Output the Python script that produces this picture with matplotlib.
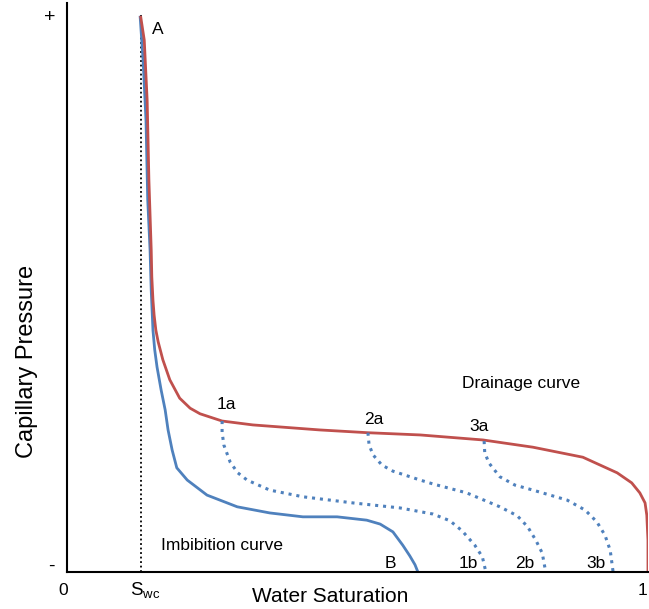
import matplotlib
matplotlib.use('Agg')
from matplotlib import pyplot as plt

plt.rcParams['font.family'] = ['Liberation Sans', 'DejaVu Sans']
plt.rcParams['mathtext.fontset'] = 'custom'
plt.rcParams['mathtext.rm'] = 'Liberation Sans'

# Water saturation (fraction) and capillary pressure (relative, 0..1)
drain_x = [0.127, 0.133, 0.138, 0.141, 0.145, 0.146, 0.148, 0.150, 0.153, 0.157,
           0.165, 0.177, 0.194, 0.212, 0.229, 0.267, 0.320, 0.435, 0.518, 0.608,
           0.716, 0.802, 0.888, 0.947, 0.972, 0.986, 0.995, 0.998, 1.0, 1.0]
drain_y = [0.996, 0.955, 0.847, 0.704, 0.578, 0.530, 0.488, 0.461, 0.434, 0.413,
           0.381, 0.345, 0.312, 0.294, 0.284, 0.271, 0.264, 0.255, 0.250, 0.246,
           0.237, 0.224, 0.206, 0.178, 0.160, 0.142, 0.124, 0.102, 0.057, 0.0]

imb_x = [0.126, 0.131, 0.136, 0.139, 0.143, 0.145, 0.148, 0.151, 0.155, 0.162,
         0.169, 0.174, 0.181, 0.189, 0.207, 0.241, 0.293, 0.349, 0.406, 0.465,
         0.516, 0.539, 0.561, 0.578, 0.590, 0.599, 0.604]
imb_y = [0.996, 0.919, 0.811, 0.668, 0.578, 0.506, 0.434, 0.399, 0.368, 0.327,
         0.291, 0.255, 0.219, 0.187, 0.165, 0.138, 0.117, 0.106, 0.099, 0.099,
         0.093, 0.086, 0.072, 0.048, 0.029, 0.013, 0.0]

# scanning curves 1a-1b, 2a-2b, 3a-3b
scan1_x = [0.267, 0.267, 0.270, 0.281, 0.294, 0.310, 0.349, 0.406, 0.492, 0.573,
           0.630, 0.659, 0.680, 0.702, 0.715, 0.721]
scan1_y = [0.271, 0.251, 0.228, 0.197, 0.178, 0.165, 0.147, 0.135, 0.124, 0.115,
           0.104, 0.092, 0.074, 0.048, 0.027, 0.0]
scan2_x = [0.518, 0.520, 0.527, 0.542, 0.561, 0.608, 0.630, 0.688, 0.745, 0.775,
           0.793, 0.807, 0.818, 0.824]
scan2_y = [0.250, 0.228, 0.210, 0.192, 0.181, 0.165, 0.158, 0.142, 0.117, 0.101,
           0.081, 0.057, 0.034, 0.0]
scan3_x = [0.718, 0.719, 0.726, 0.745, 0.771, 0.802, 0.861, 0.892, 0.912, 0.926,
           0.935, 0.940]
scan3_y = [0.235, 0.215, 0.196, 0.171, 0.156, 0.147, 0.129, 0.111, 0.090, 0.066,
           0.039, 0.0]

swc = 0.127

red = '#C0504D'
blue = '#4F81BD'

fig = plt.figure(figsize=(6.49, 6.09), dpi=100)
ax = fig.add_axes([0.1032, 0.0608, 0.8952, 0.9343])

ax.plot([swc, swc], [0, 1.004], color='black', lw=1.3, ls=(0, (1, 1.5)))
ax.plot(imb_x, imb_y, color=blue, lw=2)
ax.plot(drain_x, drain_y, color=red, lw=2)
dot = (0, (1, 1.6))
for sx, sy in [(scan1_x, scan1_y), (scan2_x, scan2_y), (scan3_x, scan3_y)]:
    ax.plot(sx, sy, color=blue, lw=2.2, ls=dot)

ax.set_xlim(0, 1)
ax.set_ylim(0, 1.0215)
for s in ['top', 'right']:
    ax.spines[s].set_visible(False)
ax.spines['left'].set_linewidth(1.5)
ax.spines['bottom'].set_linewidth(1.5)
ax.set_xticks([])
ax.set_yticks([])

fs = 12.5
ax.text(0.146, 0.973, 'A', fontsize=fs, ha='left', va='center')
ax.text(0.275, 0.300, '1a', fontsize=fs, ha='center', va='center')
ax.text(0.528, 0.273, '2a', fontsize=fs, ha='center', va='center')
ax.text(0.709, 0.262, '3a', fontsize=fs, ha='center', va='center')
ax.text(0.782, 0.339, 'Drainage curve', fontsize=fs, ha='center', va='center')
ax.text(0.267, 0.048, 'Imbibition curve', fontsize=fs, ha='center', va='center')
for lab, xx in [('B', 0.556), ('1b', 0.690), ('2b', 0.788), ('3b', 0.910)]:
    ax.text(xx, 0.016, lab, fontsize=fs, ha='center', va='center')

# axis end labels
ax.text(-0.030, 0.995, '+', fontsize=14, ha='center', va='center', clip_on=False)
ax.text(-0.026, 0.011, '-', fontsize=14, ha='center', va='center', clip_on=False)
ax.text(-0.007, -0.033, '0', fontsize=fs, ha='center', va='center', clip_on=False)
ax.text(0.991, -0.033, '1', fontsize=fs, ha='center', va='center', clip_on=False)
ax.text(swc + 0.008, -0.033, r'S$_{\mathrm{wc}}$', fontsize=13.5, ha='center', va='center', clip_on=False)

fig.text(330 / 649, 7 / 609, 'Water Saturation', fontsize=15, ha='center', va='baseline')
fig.text(33 / 649, 248 / 609, 'Capillary Pressure', fontsize=17, ha='center', va='baseline',
         rotation=90, rotation_mode='anchor')

fig.savefig('out.png', dpi=100)
